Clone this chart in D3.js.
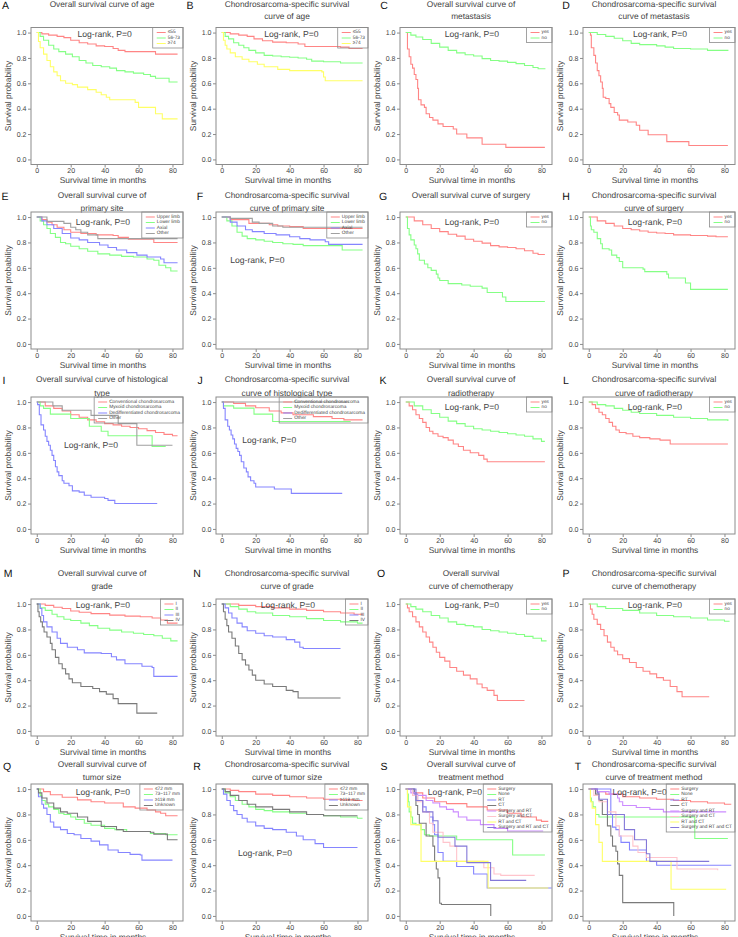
<!DOCTYPE html>
<html>
<head>
<meta charset="utf-8">
<script src="https://cdn.jsdelivr.net/npm/d3@7"></script>
<style>
  body { margin: 0; background: #fff; }
  text { font-family: "Liberation Sans", Arial, sans-serif; text-rendering: geometricPrecision; }
</style>
</head>
<body>
<script>
'use strict';

// ---- tick labels ----
const xTicks = [0, 20, 40, 60, 80];
const yTicks = [0, 0.2, 0.4, 0.6, 0.8, 1.0];

// ---- legend labels ----
const ageLabels = ["\u226455", "56-73", "\u226574"];
const yesNoLabels = ["yes", "no"];
const siteLabels = ["Upper limb", "Lower limb", "Axial", "Other"];
const histLabels = ["Conventional chondrosarcoma", "Myxoid chondrosarcoma", "Dedifferentiated chondrosarcoma", "Other"];
const gradeLabels = ["I", "II", "III", "IV"];
const sizeLabels = ["\u226472 mm", "73~117 mm", "\u2265118 mm", "Unknown"];
const treatLabels = ["Surgery", "None", "RT", "CT", "Surgery and RT", "Surgery and CT", "RT and CT", "Surgery and RT and CT"];

// ---- survival curves: [month, survival] steps ----
const osAgeCurves = [
  [[0,1],[3,0.99],[7,0.98],[12,0.97],[16,0.96],[20,0.94],[25,0.92],[30,0.91],[35,0.895],[40,0.89],[45,0.875],[48,0.86],[52,0.85],[70,0.83],[83,0.83]],
  [[0,1],[2,0.97],[4,0.94],[7,0.9],[10,0.87],[13,0.85],[17,0.83],[21,0.81],[25,0.78],[29,0.76],[33,0.74],[38,0.73],[43,0.72],[47,0.70],[52,0.69],[57,0.68],[63,0.67],[67,0.655],[70,0.64],[77,0.64],[78,0.61],[83,0.61]],
  [[0,1],[1,0.93],[2,0.88],[4,0.83],[6,0.78],[8,0.73],[10,0.69],[12,0.66],[14,0.62],[17,0.6],[21,0.59],[24,0.57],[30,0.55],[35,0.53],[38,0.51],[41,0.49],[43,0.47],[56,0.47],[58,0.45],[60,0.41],[69,0.41],[70,0.36],[74,0.32],[83,0.32]]
];
const cssAgeCurves = [
  [[0,1],[5,0.99],[10,0.98],[15,0.97],[19,0.95],[24,0.935],[30,0.925],[38,0.92],[45,0.91],[49,0.89],[70,0.885],[75,0.875],[83,0.875]],
  [[0,1],[2,0.97],[4,0.95],[7,0.92],[10,0.9],[13,0.88],[16,0.86],[20,0.84],[25,0.82],[30,0.815],[35,0.81],[40,0.805],[45,0.8],[50,0.79],[53,0.775],[60,0.77],[70,0.76],[83,0.76]],
  [[0,1],[1,0.94],[2,0.9],[3,0.87],[5,0.84],[8,0.81],[12,0.79],[16,0.77],[21,0.75],[25,0.73],[33,0.71],[40,0.70],[59,0.69],[60,0.65],[61,0.62],[83,0.62]]
];
const osMetCurves = [
  [[0,1],[1,0.87],[2,0.81],[3,0.75],[4,0.72],[5,0.67],[6,0.63],[7,0.56],[7.5,0.47],[9,0.43],[11,0.41],[12,0.36],[14,0.33],[16,0.31],[19,0.28],[22,0.26],[28,0.24],[30,0.2],[36,0.17],[45,0.12],[59,0.095],[82,0.095]],
  [[0,1],[3,0.98],[6,0.965],[10,0.945],[15,0.915],[20,0.885],[25,0.86],[30,0.84],[35,0.825],[40,0.815],[45,0.795],[50,0.78],[55,0.775],[60,0.765],[65,0.755],[70,0.74],[75,0.725],[78,0.715],[82,0.71]]
];
const cssMetCurves = [
  [[0,1],[1,0.98],[1.5,0.88],[3,0.82],[4,0.76],[5,0.7],[6,0.66],[7,0.61],[8,0.56],[8.5,0.49],[10,0.48],[12,0.44],[13,0.41],[15,0.37],[17,0.35],[18,0.31],[23,0.295],[28,0.27],[30,0.23],[35,0.195],[46,0.14],[59,0.11],[82,0.11]],
  [[0,1],[5,0.985],[10,0.97],[15,0.955],[20,0.935],[25,0.915],[30,0.905],[40,0.895],[45,0.885],[50,0.875],[60,0.87],[70,0.86],[82,0.855]]
];
const osSiteCurves = [
  [[0,1],[3,0.98],[6,0.96],[9,0.94],[12,0.92],[16,0.9],[20,0.88],[26,0.87],[35,0.86],[45,0.855],[48,0.84],[54,0.825],[68,0.825],[69,0.8],[83,0.8]],
  [[0,1],[2,0.97],[4,0.94],[6,0.91],[8,0.87],[11,0.84],[14,0.8],[17,0.79],[20,0.77],[25,0.75],[30,0.73],[36,0.71],[43,0.70],[50,0.69],[57,0.685],[65,0.67],[69,0.66],[72,0.62],[76,0.6],[79,0.575],[83,0.575]],
  [[0,1],[3,0.97],[6,0.94],[10,0.91],[15,0.87],[20,0.835],[25,0.82],[30,0.8],[37,0.78],[42,0.76],[47,0.74],[53,0.72],[59,0.70],[65,0.685],[73,0.67],[75,0.64],[83,0.64]],
  [[0,1],[6,0.966],[16,0.95],[20,0.92],[23,0.9],[26,0.88],[30,0.86],[36,0.83],[83,0.83]]
];
const cssSiteCurves = [
  [[0,1],[5,0.98],[16,0.95],[28,0.94],[33,0.93],[40,0.925],[48,0.91],[83,0.91]],
  [[0,1],[3,0.97],[6,0.93],[9,0.88],[12,0.85],[15,0.83],[20,0.82],[25,0.81],[30,0.8],[36,0.79],[42,0.785],[48,0.775],[70,0.775],[71,0.74],[83,0.74]],
  [[0,1],[5,0.96],[9,0.93],[14,0.9],[18,0.885],[25,0.87],[32,0.86],[40,0.845],[46,0.83],[52,0.82],[61,0.805],[63,0.785],[83,0.785]],
  [[0,1],[5,0.99],[16,0.99],[18,0.96],[22,0.95],[30,0.93],[36,0.92],[83,0.92]]
];
const osSurgCurves = [
  [[0,1],[5,0.97],[10,0.94],[15,0.91],[20,0.885],[25,0.865],[30,0.85],[35,0.825],[40,0.81],[45,0.795],[50,0.775],[55,0.765],[60,0.76],[65,0.75],[70,0.735],[75,0.715],[78,0.705],[82,0.705]],
  [[0,1],[1,0.91],[2,0.86],[3,0.82],[5,0.78],[6,0.75],[7,0.71],[8,0.66],[11,0.63],[13,0.6],[15,0.58],[18,0.55],[19,0.52],[20,0.5],[25,0.475],[33,0.465],[38,0.455],[45,0.44],[48,0.405],[57,0.37],[59,0.335],[82,0.335]]
];
const cssSurgCurves = [
  [[0,1],[5,0.97],[10,0.95],[15,0.93],[20,0.91],[25,0.9],[30,0.89],[35,0.88],[40,0.875],[45,0.87],[50,0.86],[60,0.855],[70,0.85],[75,0.845],[82,0.845]],
  [[0,1],[1,0.93],[1.5,0.9],[3,0.88],[5,0.83],[7,0.79],[8,0.75],[12,0.74],[13.5,0.7],[16.5,0.68],[18,0.65],[20,0.6],[32,0.59],[33,0.57],[46,0.55],[47,0.52],[57,0.48],[60,0.43],[82,0.43]]
];
const osHistCurves = [
  [[0,1],[5,0.97],[10,0.95],[15,0.93],[20,0.9],[25,0.88],[30,0.86],[35,0.845],[40,0.83],[45,0.82],[50,0.81],[55,0.8],[60,0.79],[65,0.775],[70,0.76],[75,0.745],[80,0.735],[83,0.735]],
  [[0,1],[2,0.97],[4,0.95],[8,0.905],[20,0.87],[31,0.81],[38,0.77],[42,0.735],[67,0.735],[68,0.65],[76,0.65]],
  [[0,1],[0.5,0.98],[1.5,0.9],[2.5,0.82],[4,0.78],[5,0.73],[6,0.69],[7,0.66],[8,0.62],[9,0.58],[10,0.54],[11,0.49],[12,0.45],[13,0.42],[15,0.38],[16,0.36],[19,0.34],[21,0.3],[25,0.29],[28,0.265],[32,0.25],[40,0.24],[42,0.225],[46,0.2],[71,0.2]],
  [[0,1],[9,1],[9.5,0.97],[15,0.935],[32,0.895],[48,0.83],[59,0.66],[80,0.66]]
];
const cssHistCurves = [
  [[0,1],[7,0.99],[14,0.97],[20,0.955],[28,0.93],[35,0.915],[42,0.9],[54,0.885],[65,0.87],[72,0.86],[83,0.86]],
  [[0,1],[1,0.97],[7,0.952],[19,0.905],[30,0.847],[76,0.847]],
  [[0,1],[1,0.95],[2,0.86],[3.5,0.81],[4.5,0.78],[5.5,0.74],[6.5,0.71],[7.5,0.67],[8.5,0.635],[9.5,0.61],[10.5,0.58],[11.5,0.53],[13,0.48],[14.5,0.45],[15.5,0.41],[17,0.38],[19,0.36],[20,0.33],[31,0.315],[41,0.28],[71,0.28]],
  [[0,1],[75,1]]
];
const osRadCurves = [
  [[0,1],[2,0.97],[4,0.94],[6,0.9],[8,0.87],[10,0.84],[12,0.8],[14,0.77],[16,0.75],[19,0.73],[22,0.72],[25,0.7],[28,0.67],[31,0.65],[34,0.62],[38,0.6],[43,0.58],[46,0.55],[48,0.53],[82,0.53]],
  [[0,1],[5,0.97],[10,0.94],[15,0.91],[20,0.88],[25,0.85],[30,0.83],[35,0.81],[40,0.79],[45,0.78],[50,0.77],[55,0.76],[60,0.75],[65,0.74],[70,0.73],[75,0.71],[80,0.69],[82,0.69]]
];
const cssRadCurves = [
  [[0,1],[2,0.98],[4,0.95],[6,0.92],[8,0.9],[10,0.87],[12,0.84],[14,0.81],[16,0.78],[18,0.76],[22,0.75],[26,0.73],[30,0.72],[36,0.71],[42,0.7],[48,0.67],[82,0.67]],
  [[0,1],[5,0.98],[10,0.97],[15,0.95],[20,0.935],[25,0.92],[30,0.91],[40,0.895],[50,0.88],[60,0.87],[70,0.86],[82,0.85]]
];
const osGradeCurves = [
  [[0,1],[5,0.99],[10,0.975],[15,0.965],[20,0.945],[25,0.935],[32,0.925],[43,0.913],[52,0.905],[61,0.9],[68,0.89],[73,0.874],[77,0.85],[83,0.85]],
  [[0,1],[2,0.97],[5,0.95],[9,0.92],[12,0.9],[16,0.88],[20,0.87],[26,0.85],[31,0.83],[36,0.81],[43,0.795],[50,0.78],[57,0.77],[63,0.76],[69,0.75],[74,0.73],[79,0.71],[83,0.71]],
  [[0,1],[2,0.965],[3,0.91],[4,0.86],[6,0.82],[9,0.78],[12,0.73],[14,0.69],[18,0.66],[24,0.64],[28,0.615],[38,0.61],[44,0.585],[47,0.56],[52,0.53],[62,0.51],[68,0.5],[69,0.43],[83,0.43]],
  [[0,1],[0.7,0.94],[1.4,0.9],[2.3,0.86],[3.3,0.82],[4.3,0.78],[6,0.74],[8,0.69],[9,0.64],[11,0.58],[13,0.53],[15,0.49],[17,0.45],[19,0.41],[21,0.38],[26,0.35],[33,0.335],[37,0.31],[41,0.29],[45,0.255],[48,0.215],[59,0.14],[71,0.14]]
];
const cssGradeCurves = [
  [[0,1],[10,0.99],[20,0.98],[30,0.97],[40,0.96],[50,0.95],[60,0.94],[70,0.93],[78,0.92],[83,0.92]],
  [[0,1],[5,0.98],[10,0.96],[15,0.94],[20,0.93],[30,0.91],[40,0.9],[50,0.885],[60,0.87],[70,0.86],[80,0.85],[83,0.85]],
  [[0,1],[2,0.97],[4,0.93],[6,0.89],[9,0.85],[12,0.82],[15,0.79],[20,0.77],[25,0.75],[30,0.74],[38,0.72],[43,0.7],[46,0.66],[48,0.65],[70,0.65]],
  [[0,1],[1,0.94],[2,0.88],[3,0.83],[4,0.78],[6,0.73],[8,0.67],[10,0.61],[12,0.56],[14,0.52],[16,0.48],[18,0.44],[20,0.4],[25,0.37],[30,0.35],[38,0.32],[42,0.31],[45,0.26],[70,0.26]]
];
const osChemoCurves = [
  [[0,1],[1,0.97],[2,0.94],[4,0.9],[6,0.86],[8,0.82],[10,0.78],[12,0.74],[14,0.7],[16,0.66],[18,0.62],[20,0.58],[23,0.55],[26,0.5],[30,0.47],[34,0.44],[38,0.41],[42,0.37],[45,0.34],[48,0.32],[52,0.28],[54,0.24],[70,0.24]],
  [[0,1],[3,0.98],[6,0.96],[10,0.94],[15,0.91],[20,0.89],[25,0.86],[30,0.84],[35,0.83],[40,0.82],[45,0.8],[50,0.79],[55,0.78],[60,0.77],[65,0.76],[70,0.745],[75,0.73],[80,0.71],[83,0.71]]
];
const cssChemoCurves = [
  [[0,1],[1,0.96],[2,0.92],[3,0.88],[5,0.84],[7,0.8],[9,0.75],[11,0.7],[13,0.66],[15,0.63],[17,0.6],[20,0.57],[24,0.54],[28,0.5],[32,0.47],[36,0.45],[40,0.42],[44,0.4],[48,0.35],[52,0.31],[55,0.27],[71,0.27]],
  [[0,1],[5,0.98],[10,0.965],[20,0.95],[30,0.93],[40,0.91],[50,0.9],[60,0.89],[70,0.875],[80,0.865],[83,0.865]]
];
const osSizeCurves = [
  [[0,1],[4,0.98],[8,0.955],[15,0.935],[24,0.915],[32,0.9],[40,0.89],[51,0.86],[58,0.85],[65,0.835],[70,0.82],[73,0.81],[76,0.79],[83,0.79]],
  [[0,1],[2,0.95],[3,0.91],[5,0.88],[7,0.86],[10,0.84],[13,0.81],[16,0.8],[20,0.78],[23,0.76],[28,0.73],[32,0.715],[40,0.69],[46,0.68],[53,0.665],[67,0.65],[76,0.64],[83,0.64]],
  [[0,1],[1,0.94],[3,0.88],[4,0.85],[6,0.8],[8,0.74],[10,0.7],[14,0.68],[18,0.65],[22,0.64],[26,0.61],[32,0.59],[37,0.56],[42,0.52],[48,0.5],[55,0.485],[61,0.48],[62,0.44],[80,0.44]],
  [[0,1],[1,0.97],[3,0.93],[6,0.89],[10,0.85],[14,0.82],[18,0.81],[24,0.78],[30,0.745],[38,0.705],[47,0.68],[51,0.665],[67,0.66],[69,0.645],[77,0.6],[83,0.6]]
];
const cssSizeCurves = [
  [[0,1],[5,0.99],[10,0.98],[20,0.96],[30,0.95],[40,0.94],[50,0.93],[60,0.92],[70,0.915],[78,0.91],[83,0.91]],
  [[0,1],[2,0.97],[5,0.94],[8,0.91],[12,0.88],[16,0.86],[20,0.84],[25,0.83],[30,0.82],[40,0.81],[50,0.8],[60,0.79],[70,0.78],[80,0.77],[83,0.77]],
  [[0,1],[1,0.96],[3,0.91],[5,0.87],[7,0.83],[9,0.8],[12,0.77],[15,0.74],[20,0.71],[25,0.69],[30,0.68],[38,0.66],[44,0.63],[48,0.6],[55,0.57],[60,0.54],[80,0.54]],
  [[0,1],[2,0.98],[5,0.95],[10,0.91],[15,0.88],[20,0.86],[30,0.84],[40,0.82],[50,0.8],[60,0.79],[80,0.79]]
];
const osTreatCurves = [
  [[0,1],[4,0.97],[10,0.93],[17,0.9],[24,0.885],[36,0.86],[48,0.835],[60,0.81],[68,0.78],[77,0.755],[80,0.745],[84,0.745]],
  [[0,1],[1,0.96],[1.5,0.9],[2,0.82],[3,0.78],[4,0.73],[6,0.72],[9,0.68],[11,0.64],[14,0.63],[30,0.6],[62,0.6],[63,0.48],[82,0.48]],
  [[0,1],[4,1],[5,0.96],[7,0.91],[10,0.86],[12,0.82],[14,0.78],[16,0.72],[17,0.64],[19,0.5],[22,0.43],[30,0.39],[40,0.33],[48,0.22],[86,0.22]],
  [[0,1],[5,0.97],[6,0.87],[7,0.8],[8,0.73],[12,0.63],[16,0.55],[17,0.43],[18,0.37],[19,0.3],[20,0.1],[21,0.09],[50,0.09],[50.1,0]],
  [[0,1],[3,0.97],[6,0.95],[12,0.91],[16,0.89],[20,0.86],[24,0.84],[28,0.82],[31,0.78],[36,0.755],[44,0.72],[52,0.69],[60,0.67],[81,0.67]],
  [[0,1],[4,0.95],[7,0.9],[10,0.82],[14,0.73],[16,0.66],[22,0.58],[26,0.55],[30,0.43],[46,0.38],[52,0.33],[56,0.32],[76,0.32]],
  [[0,1],[1,0.86],[3,0.72],[8,0.72],[9,0.43],[48,0.43],[48.5,0.22],[84,0.22]],
  [[0,1],[6,0.91],[10,0.82],[16,0.75],[19,0.62],[29,0.55],[36,0.42],[50,0.28],[71,0.28]]
];
const cssTreatCurves = [
  [[0,1],[5,0.98],[10,0.96],[20,0.94],[30,0.93],[40,0.92],[50,0.91],[60,0.9],[70,0.89],[80,0.88],[84,0.88]],
  [[0,1],[1,0.93],[1.5,0.9],[2.5,0.86],[4,0.8],[6,0.78],[62,0.78],[62.5,0.61],[82,0.61]],
  [[0,1],[12,1],[13,0.8],[14,0.7],[16,0.68],[18,0.63],[19,0.58],[24,0.52],[34,0.43],[40,0.4],[84,0.4]],
  [[0,1],[4,0.96],[6,0.91],[8,0.8],[11,0.71],[13,0.63],[14,0.55],[16,0.51],[17,0.41],[18,0.32],[20,0.105],[50,0.105],[50.1,0]],
  [[0,1],[5,0.98],[12,0.96],[17,0.93],[18,0.9],[20,0.87],[28,0.855],[36,0.84],[44,0.82],[81,0.82]],
  [[0,1],[3,0.95],[6,0.9],[11,0.82],[16,0.71],[18,0.63],[26,0.55],[29,0.5],[34,0.46],[52,0.37],[76,0.36]],
  [[0,1],[1,0.9],[2,0.85],[4,0.72],[6,0.58],[8,0.43],[48,0.43],[48.5,0.21],[81,0.21]],
  [[0,1],[5,0.97],[6,0.92],[11,0.8],[21,0.68],[27,0.6],[34,0.49],[36,0.43],[71,0.43]]
];

// ---- titles ----
const panelTitles = [
  ["Overall survival curve of age"],
  ["Chondrosarcoma-specific survival", "curve of age"],
  ["Overall survival curve of", "metastasis"],
  ["Chondrosarcoma-specific survival", "curve of metastasis"],
  ["Overall survival curve of", "primary site"],
  ["Chondrosarcoma-specific survival", "curve of primary site"],
  ["Overall survival curve of surgery"],
  ["Chondrosarcoma-specific survival", "curve of surgery"],
  ["Overall survival curve of histological", "type"],
  ["Chondrosarcoma-specific survival", "curve of histological type"],
  ["Overall survival curve of", "radiotherapy"],
  ["Chondrosarcoma-specific survival", "curve of radiotherapy"],
  ["Overall survival curve of", "grade"],
  ["Chondrosarcoma-specific survival", "curve of grade"],
  ["Overall survival", "curve of chemotherapy"],
  ["Chondrosarcoma-specific survival", "curve of chemotherapy"],
  ["Overall survival curve of", "tumor size"],
  ["Chondrosarcoma-specific survival", "curve of tumor size"],
  ["Overall survival curve of", "treatment method"],
  ["Chondrosarcoma-specific survival", "curve of treatment method"]
];
const panelLetters = "ABCDEFGHIJKLMNOPQRST".split("");

const panelCurves = [osAgeCurves, cssAgeCurves, osMetCurves, cssMetCurves, osSiteCurves, cssSiteCurves,
  osSurgCurves, cssSurgCurves, osHistCurves, cssHistCurves, osRadCurves, cssRadCurves,
  osGradeCurves, cssGradeCurves, osChemoCurves, cssChemoCurves, osSizeCurves, cssSizeCurves,
  osTreatCurves, cssTreatCurves];
const panelLabels = [ageLabels, ageLabels, yesNoLabels, yesNoLabels, siteLabels, siteLabels,
  yesNoLabels, yesNoLabels, histLabels, histLabels, yesNoLabels, yesNoLabels,
  gradeLabels, gradeLabels, yesNoLabels, yesNoLabels, sizeLabels, sizeLabels, treatLabels, treatLabels];

// ---- styles ----
const palette = {
  red: "#ff8585", green: "#85ff85", blue: "#8585ff", yellow: "#ffff66",
  grey: "#a0a0a0", dgrey: "#7a7a7a", violet: "#cc8cff", pink: "#ffc4cc", slate: "#8478d8"
};
const ageColors = ["red", "green", "yellow"];
const twoColors = ["red", "green"];
const fourColors = ["red", "green", "blue", "grey"];
const fourDarkColors = ["red", "green", "blue", "dgrey"];
const treatColors = ["red", "green", "blue", "dgrey", "violet", "pink", "yellow", "slate"];
const panelColors = [ageColors, ageColors, twoColors, twoColors, fourColors, fourColors,
  twoColors, twoColors, fourColors, fourColors, twoColors, twoColors,
  fourDarkColors, fourDarkColors, twoColors, twoColors, fourDarkColors, fourDarkColors, treatColors, treatColors];

// log-rank label anchor in data units
const logRankPos = [[40,0.985],[41,0.985],[39,0.985],[42,0.985],[39,0.96],[21,0.66],[39,0.96],[39,0.96],
  [32,0.664],[28,0.70],[39,0.96],[39,0.96],[39,0.995],[39,0.995],[39,0.995],[39,0.995],
  [39,0.98],[25.5,0.5],[29,0.98],[30,0.98]];

// ---- layout ----
const colLeft = [31, 216, 400, 583];
const rowTop = [27.5, 212, 397, 599, 784];
const boxW = 152, boxH = 137;
const titleRowY = [[4, 16], [195, 208], [379, 393], [573, 586], [764, 777]];
const letterRowY = [6, 197, 381, 574, 767];
const letterX = [5.5, 190, 384, 566, 5, 200, 383, 566, 4, 200, 383, 566, 8, 197, 381, 566, 7, 197, 384, 578];

const frameColor = "#8c8c8c";
const textColor = "#444";

const svg = d3.select("body").append("svg")
  .attr("width", 738)
  .attr("height", 937);

panelCurves.forEach(function(curves, i) {
  let col = i % 4;
  let row = Math.floor(i / 4);
  let left = colLeft[col];
  let top = rowTop[row];

  let xScale = d3.scaleLinear().domain([-3.4, 86.2]).range([left, left + boxW]);
  let yScale = d3.scaleLinear().domain([-0.04, 1.04]).range([top + boxH, top]);

  let g = svg.append("g");

  // panel letter
  g.append("text")
    .attr("x", letterX[i])
    .attr("y", letterRowY[row])
    .attr("text-anchor", "middle")
    .attr("dominant-baseline", "central")
    .style("font-size", "10.5px")
    .style("fill", "#111")
    .text(panelLetters[i]);

  // title
  panelTitles[i].forEach(function(line, k) {
    g.append("text")
      .attr("x", left + boxW / 2 - 5)
      .attr("y", titleRowY[row][k])
      .attr("text-anchor", "middle")
      .attr("dominant-baseline", "central")
      .style("font-size", "8.3px")
      .style("fill", textColor)
      .text(line);
  });

  // axes
  let xAxis = d3.axisBottom(xScale).tickValues(xTicks).tickSize(3).tickPadding(1).tickFormat(d3.format("d"));
  let xg = g.append("g")
    .attr("transform", "translate(0," + (top + boxH) + ")")
    .call(xAxis);
  let yAxis = d3.axisLeft(yScale).tickValues(yTicks).tickSize(3).tickPadding(1.5).tickFormat(d3.format(".1f"));
  let yg = g.append("g")
    .attr("transform", "translate(" + left + ",0)")
    .call(yAxis);
  [xg, yg].forEach(function(ax) {
    ax.select(".domain").remove();
    ax.selectAll(".tick line").attr("stroke", frameColor);
    ax.selectAll(".tick text")
      .style("font-size", "7px")
      .style("font-family", '"Liberation Sans", Arial, sans-serif')
      .attr("fill", textColor);
  });

  g.append("text")
    .attr("x", left + boxW / 2 - 4)
    .attr("y", top + boxH + 18.5)
    .attr("text-anchor", "middle")
    .style("font-size", "8.4px")
    .style("fill", textColor)
    .text("Survival time in months");

  g.append("text")
    .attr("transform", "translate(" + (left - 23) + "," + (top + boxH / 2) + ")rotate(-90)")
    .attr("text-anchor", "middle")
    .attr("dominant-baseline", "central")
    .style("font-size", "8.4px")
    .style("fill", textColor)
    .text("Survival probability");

  // curves
  let line = d3.line()
    .x(function(d) { return xScale(d[0]); })
    .y(function(d) { return yScale(d[1]); })
    .curve(d3.curveStepAfter);

  curves.forEach(function(pts, k) {
    g.append("path")
      .attr("d", line(pts))
      .attr("fill", "none")
      .attr("stroke", palette[panelColors[i][k]])
      .attr("stroke-width", 1.1);
  });

  // frame
  g.append("rect")
    .attr("x", left)
    .attr("y", top)
    .attr("width", boxW)
    .attr("height", boxH)
    .attr("fill", "none")
    .attr("stroke", frameColor)
    .attr("stroke-width", 1);

  // log-rank label
  g.append("text")
    .attr("x", xScale(logRankPos[i][0]))
    .attr("y", yScale(logRankPos[i][1]))
    .attr("text-anchor", "middle")
    .attr("dominant-baseline", "central")
    .style("font-size", "8.6px")
    .style("fill", textColor)
    .text("Log-rank, P=0");

  // legend (transparent, top-right corner)
  let labels = panelLabels[i];
  let lg = g.append("g");
  let maxW = 0;
  let texts = labels.map(function(lab, k) {
    let t = lg.append("text")
      .attr("y", top + 5 + k * 5.5)
      .attr("dominant-baseline", "central")
      .style("font-size", "4.8px")
      .style("fill", textColor)
      .text(lab);
    maxW = Math.max(maxW, t.node().getComputedTextLength());
    return t;
  });
  let legW = 15 + maxW + 3;
  let legH = 5 + (labels.length - 1) * 5.5 + 4.5;
  let legX = left + boxW - legW;
  texts.forEach(function(t) { t.attr("x", legX + 15); });
  labels.forEach(function(lab, k) {
    lg.append("line")
      .attr("x1", legX + 4)
      .attr("x2", legX + 13)
      .attr("y1", top + 5 + k * 5.5)
      .attr("y2", top + 5 + k * 5.5)
      .attr("stroke", palette[panelColors[i][k]])
      .attr("stroke-width", 1);
  });
  lg.append("rect")
    .attr("x", legX)
    .attr("y", top)
    .attr("width", legW)
    .attr("height", legH)
    .attr("fill", "none")
    .attr("stroke", frameColor)
    .attr("stroke-width", 0.8);
});
</script>
</body>
</html>
